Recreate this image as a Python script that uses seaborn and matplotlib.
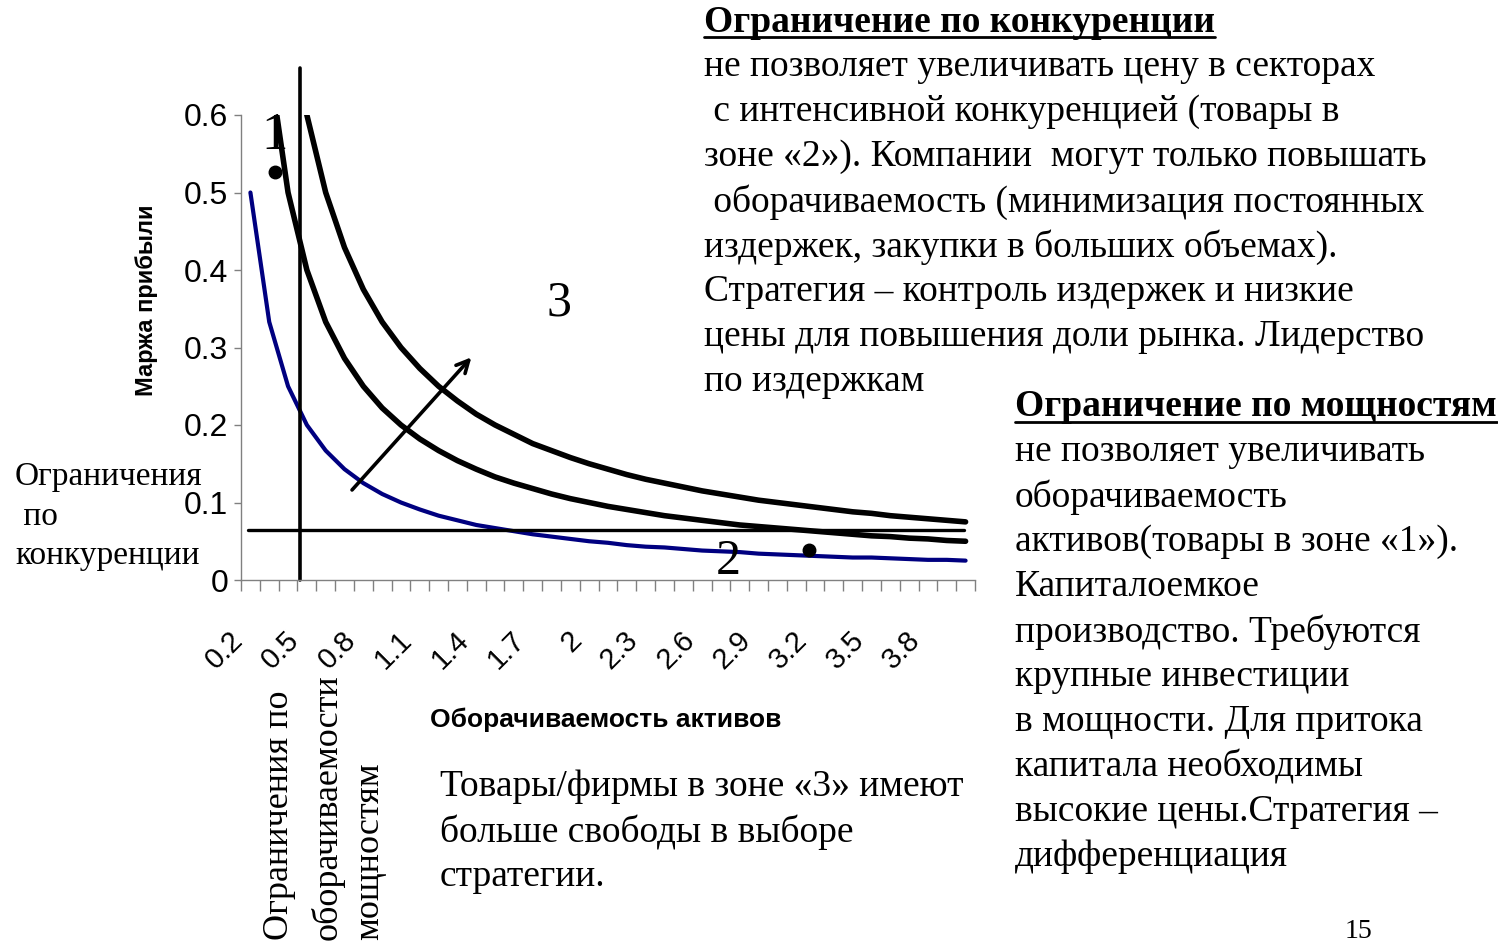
import pandas as pd
import matplotlib
matplotlib.use("Agg")
import matplotlib.pyplot as plt
import matplotlib.transforms as mtransforms
import seaborn as sns
from matplotlib import font_manager as fm

# turnover categories 0.2 .. 4.0
turnover = ["0.2", "0.3", "0.4", "0.5", "0.6", "0.7", "0.8", "0.9", "1", "1.1",
            "1.2", "1.3", "1.4", "1.5", "1.6", "1.7", "1.8", "1.9", "2", "2.1",
            "2.2", "2.3", "2.4", "2.5", "2.6", "2.7", "2.8", "2.9", "3", "3.1",
            "3.2", "3.3", "3.4", "3.5", "3.6", "3.7", "3.8", "3.9", "4"]

margin_low = [0.5, 0.333, 0.25, 0.2, 0.167, 0.143, 0.125, 0.111, 0.1, 0.091,
              0.083, 0.077, 0.071, 0.067, 0.063, 0.059, 0.056, 0.053, 0.05, 0.048,
              0.045, 0.043, 0.042, 0.04, 0.038, 0.037, 0.036, 0.034, 0.033, 0.032,
              0.031, 0.03, 0.029, 0.029, 0.028, 0.027, 0.026, 0.026, 0.025]
margin_mid = [1.0, 0.667, 0.5, 0.4, 0.333, 0.286, 0.25, 0.222, 0.2, 0.182,
              0.167, 0.154, 0.143, 0.133, 0.125, 0.118, 0.111, 0.105, 0.1, 0.095,
              0.091, 0.087, 0.083, 0.08, 0.077, 0.074, 0.071, 0.069, 0.067, 0.065,
              0.063, 0.061, 0.059, 0.057, 0.056, 0.054, 0.053, 0.051, 0.05]
margin_high = [1.5, 1.0, 0.75, 0.6, 0.5, 0.429, 0.375, 0.333, 0.3, 0.273,
               0.25, 0.231, 0.214, 0.2, 0.188, 0.176, 0.167, 0.158, 0.15, 0.143,
               0.136, 0.13, 0.125, 0.12, 0.115, 0.111, 0.107, 0.103, 0.1, 0.097,
               0.094, 0.091, 0.088, 0.086, 0.083, 0.081, 0.079, 0.077, 0.075]

shown_labels = ["0.2", "0.5", "0.8", "1.1", "1.4", "1.7", "2", "2.3", "2.6",
                "2.9", "3.2", "3.5", "3.8"]

sns.set_style("white")
names = {f.name for f in fm.fontManager.ttflist}
narrow = "Liberation Sans Narrow" if "Liberation Sans Narrow" in names else "Liberation Sans"
serif = "Liberation Serif"
plt.rcParams["font.family"] = [serif, "DejaVu Serif"]
plt.rcParams["text.color"] = "black"
plt.rcParams["xtick.color"] = "black"
plt.rcParams["ytick.color"] = "black"

df = pd.DataFrame({"pos": range(len(turnover)), "low": margin_low,
                   "mid": margin_mid, "high": margin_high})

fig = plt.figure(figsize=(14.98, 9.44), dpi=100)
W, H = 1498, 944


def fx(x):
    return x / W


def fy(y):
    return 1 - y / H


ax = fig.add_axes([fx(241), fy(580), fx(975) - fx(241), fy(115) - fy(580)])

sns.lineplot(data=df, x="pos", y="low", ax=ax, color="#000080", lw=3.0)
sns.lineplot(data=df, x="pos", y="mid", ax=ax, color="black", lw=4.0)
sns.lineplot(data=df, x="pos", y="high", ax=ax, color="black", lw=4.0)

ax.set_xlim(-0.5, len(turnover) - 0.5)
ax.set_ylim(0, 0.6)

# constraint lines, arrow, dots
ax.plot([-0.13, 37.9], [0.0645, 0.0645], color="black", lw=2.4, clip_on=False)
ax.plot([2.64, 2.64], [0, 0.661], color="black", lw=2.6, clip_on=False)
ax.annotate("", xy=(11.84, 0.29), xytext=(5.3, 0.1135),
            arrowprops=dict(arrowstyle="->", lw=2.6, color="black", mutation_scale=22))
ax.plot([1.31, 29.7], [0.526, 0.0387], "o", color="black", ms=9)

ax.text(1.3, 0.573, "1", fontsize=38, ha="center", va="center")
ax.text(16.4, 0.357, "3", fontsize=36, ha="center", va="center")
ax.text(25.4, 0.023, "2", fontsize=36, ha="center", va="center")

for side in ["top", "right"]:
    ax.spines[side].set_visible(False)
for side in ["left", "bottom"]:
    ax.spines[side].set_color("#808080")
    ax.spines[side].set_linewidth(1.0)

ax.set_yticks([0, 0.1, 0.2, 0.3, 0.4, 0.5, 0.6])
ax.set_yticklabels(["0", "0.1", "0.2", "0.3", "0.4", "0.5", "0.6"],
                   fontfamily=narrow, fontsize=23)
ax.tick_params(axis="y", direction="out", length=5, color="#808080", width=1, pad=4, left=True)

pos_shown = [turnover.index(s) for s in shown_labels]
ax.set_xticks(pos_shown)
ax.set_xticklabels(shown_labels, fontfamily=narrow, fontsize=21, rotation=45,
                   ha="right", va="center", rotation_mode="anchor")
ax.tick_params(axis="x", which="major", length=0, pad=40)
shift = mtransforms.ScaledTranslation(-12 / 100, 0, fig.dpi_scale_trans)
for lab in ax.get_xticklabels():
    lab.set_transform(lab.get_transform() + shift)
ax.set_xticks([i - 0.5 for i in range(len(turnover) + 1)], minor=True)
ax.tick_params(axis="x", which="minor", direction="out", length=8, color="#808080",
               width=1, bottom=True)

ax.set_xlabel("")
ax.set_ylabel("")
fig.text(fx(147), fy(300), "Маржа прибыли", rotation=90, ha="center", va="center",
         fontfamily=narrow, fontweight="bold", fontsize=17)
fig.text(fx(606), fy(720), "Оборачиваемость активов", ha="center", va="center",
         fontfamily=narrow, fontweight="bold", fontsize=19)

fs = 27
underlined = []

top_lines = [
    "не позволяет увеличивать цену в секторах",
    " с интенсивной конкуренцией (товары в",
    "зоне «2»). Компании  могут только повышать",
    " оборачиваемость (минимизация постоянных",
    "издержек, закупки в больших объемах).",
    "Стратегия – контроль издержек и низкие",
    "цены для повышения доли рынка. Лидерство",
    "по издержкам",
]
underlined.append(fig.text(fx(704), fy(22), "Ограничение по конкуренции", ha="left",
                           va="center", fontsize=fs, fontweight="bold"))
for i, line in enumerate(top_lines):
    fig.text(fx(704), fy(67 + 45 * i), line, ha="left", va="center", fontsize=fs)

right_lines = [
    "не позволяет увеличивать",
    "оборачиваемость",
    "активов(товары в зоне «1»).",
    "Капиталоемкое",
    "производство. Требуются",
    "крупные инвестиции",
    "в мощности. Для притока",
    "капитала необходимы",
    "высокие цены.Стратегия –",
    "дифференциация",
]
underlined.append(fig.text(fx(1015), fy(407), "Ограничение по мощностям", ha="left",
                           va="center", fontsize=fs, fontweight="bold"))
for i, line in enumerate(right_lines):
    fig.text(fx(1015), fy(452 + 45 * i), line, ha="left", va="center", fontsize=fs)

bottom_lines = ["Товары/фирмы в зоне «3» имеют", "больше свободы в выборе", "стратегии."]
for i, line in enumerate(bottom_lines):
    fig.text(fx(440), fy(787 + 45 * i), line, ha="left", va="center", fontsize=fs)

for y, line in zip([477, 517, 556], ["Ограничения", " по", "конкуренции"]):
    fig.text(fx(15), fy(y), line, ha="left", va="center", fontsize=24)

for x, line in zip([280, 328, 370], ["Ограничения по", "оборачиваемости", "мощностям"]):
    fig.text(fx(x), fy(940), line, rotation=90, ha="center", va="bottom", fontsize=26)

fig.text(fx(1358), fy(932), "15", ha="center", va="center", fontsize=20)

# underline the bold headings
fig.canvas.draw()
renderer = fig.canvas.get_renderer()
for t in underlined:
    bb = t.get_window_extent(renderer)
    fig.add_artist(plt.Line2D([bb.x0 / W, bb.x1 / W], [(bb.y0 + 3) / H, (bb.y0 + 3) / H],
                              color="black", lw=2.0, transform=fig.transFigure))

fig.savefig("out.png", dpi=100)
